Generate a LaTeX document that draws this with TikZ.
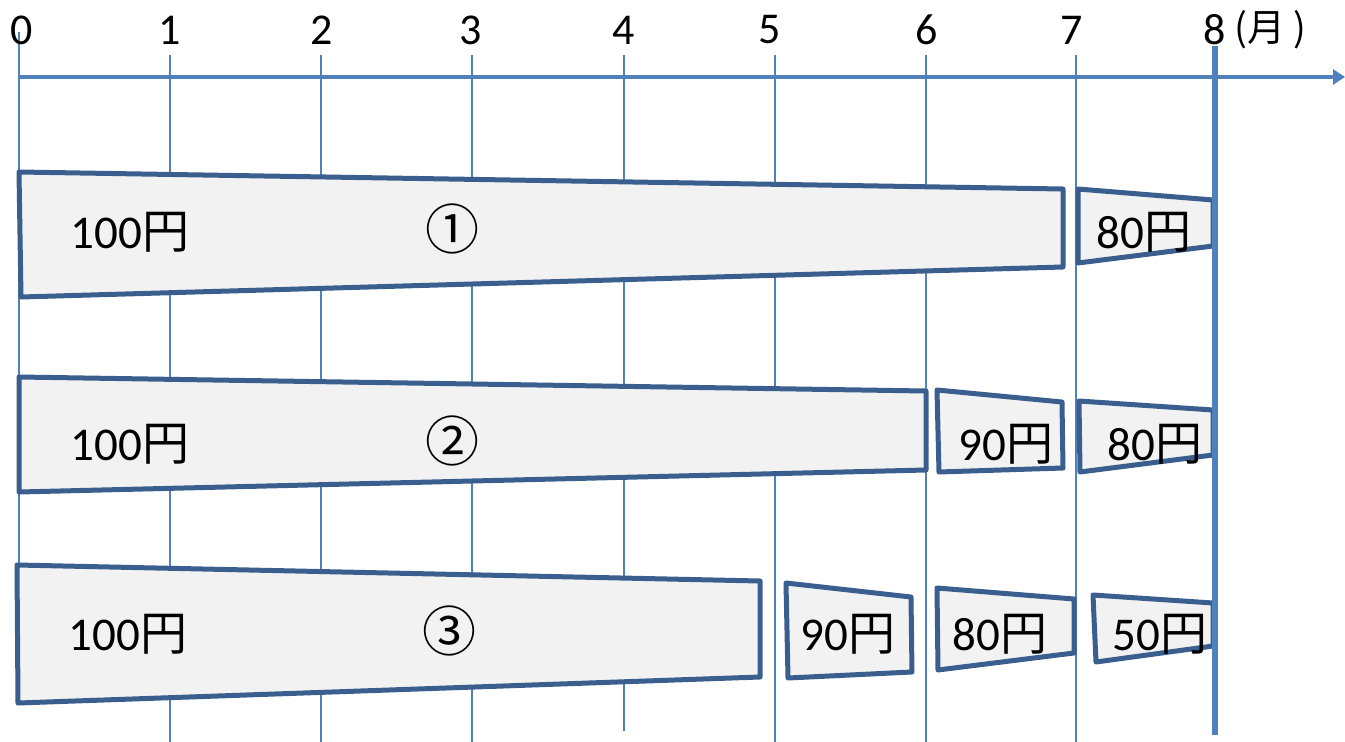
\documentclass[tikz,border=0pt]{standalone}
\usepackage{fontspec}
\setmainfont{Carlito}
\newfontfamily\jp{Noto Sans CJK JP}
\newcommand\yenj{{\jp 円}}
\definecolor{axisblue}{HTML}{4F81BD}
\definecolor{boxline}{HTML}{3A5F8E}
\definecolor{boxfill}{HTML}{F2F2F2}
\usetikzlibrary{arrows.meta}
\tikzset{
  grid/.style={draw=axisblue, line width=1.8pt},
  period/.style={draw=boxline, fill=boxfill, line width=5pt, line join=round},
  ticklab/.style={font=\fontsize{44}{44}\selectfont, inner sep=0pt, anchor=center},
  lab/.style={font=\fontsize{47}{47}\selectfont, inner sep=0pt, anchor=center},
  circ/.style={font=\jp\fontsize{54}{54}\selectfont, inner sep=0pt, anchor=center}
}
\begin{document}
\begin{tikzpicture}[x=1pt,y=-1pt]
\useasboundingbox (0,0) rectangle (1345,742);
% grid lines
\draw[grid] (19,32) -- (19,700);
\draw[grid] (170,55) -- (170,742);
\draw[grid] (321,55) -- (321,742);
\draw[grid] (472,55) -- (472,742);
\draw[grid] (624,55) -- (624,731);
\draw[grid] (775,55) -- (775,742);
\draw[grid] (926,55) -- (926,742);
\draw[grid] (1076,55) -- (1076,742);
% axis
\coordinate (ax0) at (19,77);
\coordinate (ax1) at (1345,77);
\draw[draw=axisblue, line width=3.5pt, -{Triangle[length=12pt,width=15pt]}] (ax0) -- (ax1);
% tick labels
\node[ticklab] (t0) at (22,30) {0};
\node[ticklab] (t1) at (170,30) {1};
\node[ticklab] (t2) at (322,30) {2};
\node[ticklab] (t3) at (471,30) {3};
\node[ticklab] (t4) at (624,30) {4};
\node[ticklab] (t5) at (770,30) {5};
\node[ticklab] (t6) at (927,30) {6};
\node[ticklab] (t7) at (1072,30) {7};
\node[ticklab] (t8) at (1215,30) {8};
\node[font=\jp\fontsize{38}{38}\selectfont, inner sep=0pt, anchor=west] (unit) at (1234,30) {(月 )};
% row 1
\draw[period] (19,172) -- (1063,189) -- (1063,267) -- (21,297) -- cycle;
\draw[period] (1078,189) -- (1213,200) -- (1213,246) -- (1078,263) -- cycle;
\node[lab] (r1a) at (130,232) {100\yenj};
\node[circ] (r1c) at (452,229) {①};
\node[lab] (r1b) at (1144,232) {80\yenj};
% row 2
\draw[period] (19,377) -- (926,391) -- (926,470) -- (19,492) -- cycle;
\draw[period] (937,390) -- (1062,402) -- (1063,468) -- (939,472) -- cycle;
\draw[period] (1079,401) -- (1213,410) -- (1213,455) -- (1080,472) -- cycle;
\node[lab] (r2a) at (130,444) {100\yenj};
\node[circ] (r2c) at (452,441) {②};
\node[lab] (r2b) at (1006,444) {90\yenj};
\node[lab] (r2d) at (1155,444) {80\yenj};
% row 3
\draw[period] (17,565) -- (760,581) -- (760,677) -- (18,703) -- cycle;
\draw[period] (786,583) -- (911,597) -- (912,672) -- (788,678) -- cycle;
\draw[period] (937,588) -- (1074,599) -- (1074,653) -- (938,670) -- cycle;
\draw[period] (1093,595) -- (1213,603) -- (1213,646) -- (1096,662) -- cycle;
\node[lab] (r3a) at (128,634) {100\yenj};
\node[circ] (r3c) at (449,631) {③};
\node[lab] (r3b) at (848,634) {90\yenj};
\node[lab] (r3d) at (1000,634) {80\yenj};
\node[lab] (r3e) at (1160,634) {50\yenj};
% month 8 line
\draw[draw=axisblue, line width=5.5pt] (1215,46) -- (1215,735);
\end{tikzpicture}
\end{document}
